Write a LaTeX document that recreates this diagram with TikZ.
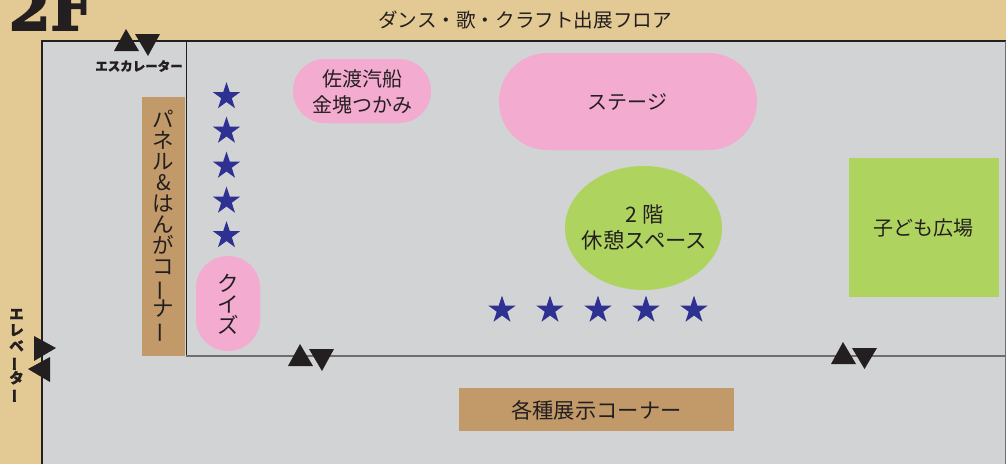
\documentclass[tikz,border=0pt]{standalone}
\usepackage{fontspec}
\usetikzlibrary{shapes.geometric}
\setmainfont{Noto Sans CJK JP}
\newfontfamily\boldcjk[BoldFeatures={FakeBold=1.2}]{Noto Sans CJK JP}
\newfontfamily\fatfont[BoldFeatures={FakeBold=3}]{DejaVu Serif}
\definecolor{sand}{HTML}{E3C993}
\definecolor{floorgrey}{HTML}{D1D3D4}
\definecolor{ink}{HTML}{231F20}
\definecolor{pinkarea}{HTML}{F3ABCF}
\definecolor{greenarea}{HTML}{AFD35F}
\definecolor{brownarea}{HTML}{C29A6A}
\definecolor{stargold}{HTML}{2E3192}
\newcommand{\vbar}{\rotatebox[origin=c]{90}{ー}}
\newcommand{\tightlines}[2]{\fontsize{#1}{#2}\selectfont\lineskiplimit=-100pt\relax}
\tikzset{
  x=1pt,y=-1pt,
  label text/.style={text=ink,inner sep=0pt,align=center},
  label big/.style={label text,font=\fontsize{21.3}{26}\selectfont},
  label small/.style={label text,font=\fontsize{20}{26}\selectfont},
  pill/.style={fill=pinkarea,inner sep=0pt},
  brown box/.style={fill=brownarea,inner sep=0pt},
  blue star/.style={star,star points=5,star point ratio=2.618,fill=stargold,inner sep=0pt,minimum size=29pt},
  arrow mark/.style={fill=ink},
  wall/.style={draw=ink,line width=2pt},
  soft wall/.style={draw=ink!65,line width=1.3pt}
}
\begin{document}
\begin{tikzpicture}
\useasboundingbox (0,0) rectangle (1006,464);
\begin{scope}
\clip (0,0) rectangle (1006,464);
\fill[sand] (0,0) rectangle (1006,464);
\fill[floorgrey] (42,41) rectangle (1006,464);
\draw[wall] (42,464) -- (42,41) -- (1006,41);
\draw[ink,line width=1.2pt] (186.5,41) -- (186.5,356);
\draw[soft wall] (186,356) -- (1006,356);
\draw[draw=ink!65,line width=1pt] (1005.5,41) -- (1005.5,464);
\node[text=ink,inner sep=0pt,anchor=base,font=\fatfont\bfseries\fontsize{60}{60}\selectfont] (floorname) at (51,30) {2F};
\node[label text,font=\fontsize{19.6}{26}\selectfont] (title) at (525,20) {ダンス・歌・クラフト出展フロア};
% escalators
\fill[arrow mark] (114,51) -- (126,29) -- (139,51) -- cycle;
\fill[arrow mark] (135,34) -- (160,34) -- (148,56) -- cycle;
\fill[arrow mark] (288,366) -- (300,344) -- (313,366) -- cycle;
\fill[arrow mark] (309,349) -- (334,349) -- (322,371) -- cycle;
\fill[arrow mark] (831,364) -- (843,342) -- (856,364) -- cycle;
\fill[arrow mark] (852,348) -- (877,348) -- (864.5,369) -- cycle;
% elevator
\fill[arrow mark] (34,336) -- (56,348) -- (34,361) -- cycle;
\fill[arrow mark] (50,357) -- (28,369) -- (50,382) -- cycle;
\node[text=ink,inner sep=0pt,font=\boldcjk\bfseries\fontsize{12.5}{13}\selectfont] (esc) at (139,66) {エスカレーター};
\node[text=ink,inner sep=0pt,align=center,font=\boldcjk\bfseries\tightlines{14.5}{16}] (elev) at (16.5,356) {エ\\レ\\ベ\\\vbar\\タ\\\vbar};
% areas
\node[brown box,minimum width=43pt,minimum height=259pt] (panelbox) at (163.5,226.5) {};
\node[text=ink,inner sep=0pt,align=center,font=\tightlines{21.5}{21}] (paneltext) at (163.5,226.5) {パ\\ネ\\ル\\\&\\は\\ん\\が\\コ\\\vbar\\ナ\\\vbar};
\node[pill,rounded corners=31.9pt,minimum width=138pt,minimum height=64pt] (sado) at (362,91) {};
\node[label small] (sadotext) at (362,92) {佐渡汽船\\金塊つかみ};
\node[pill,rounded corners=48.4pt,minimum width=258pt,minimum height=97pt] (stage) at (628,101.5) {};
\node[label small] (stagetext) at (627.5,102) {ステージ};
\node[pill,rounded corners=31.9pt,minimum width=64pt,minimum height=95pt] (quiz) at (228,303.5) {};
\node[text=ink,inner sep=0pt,align=center,font=\tightlines{21.5}{21}] (quiztext) at (228,304) {ク\\イ\\ズ};
\node[ellipse,fill=greenarea,inner sep=0pt,minimum width=157pt,minimum height=124pt] (rest) at (643.5,228) {};
\node[label big] (resttext) at (644.5,228) {2 階\\休憩スペース};
\node[fill=greenarea,inner sep=0pt,minimum width=150pt,minimum height=139pt] (kids) at (924,227.5) {};
\node[label small] (kidstext) at (923.5,228) {子ども広場};
\node[brown box,minimum width=275pt,minimum height=43pt] (cornerbox) at (596.5,409.5) {};
\node[label big] (cornertext) at (596.5,410) {各種展示コーナー};
% stars
\foreach \i/\py in {1/96.5,2/131,3/166,4/201,5/235.5}
  \node[blue star] (sv\i) at (226.5,\py) {};
\foreach \i/\px in {1/502,2/550,3/598,4/646,5/694}
  \node[blue star] (sh\i) at (\px,310) {};
\end{scope}
\end{tikzpicture}
\end{document}
